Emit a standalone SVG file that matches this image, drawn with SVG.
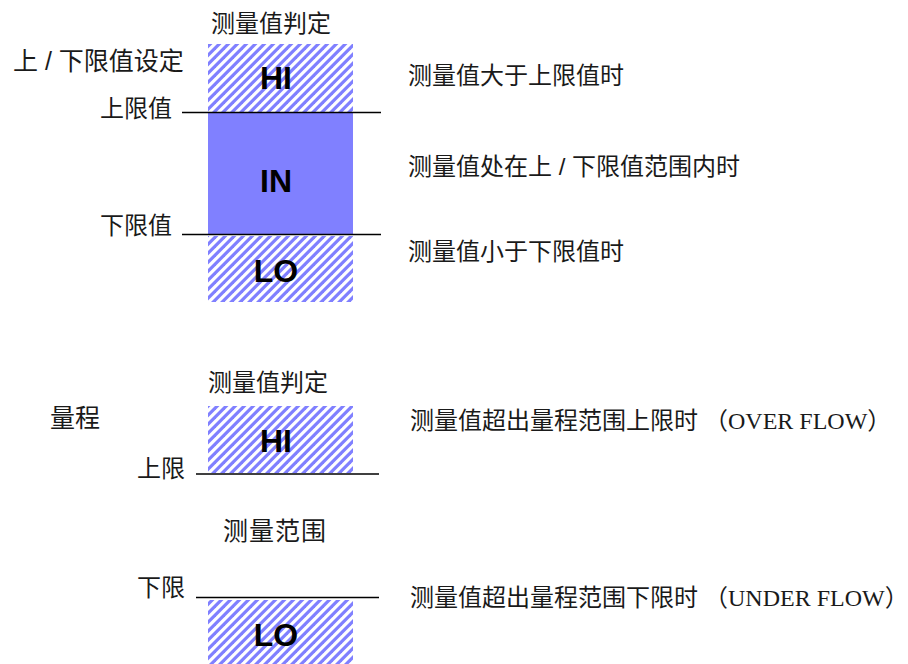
<svg xmlns="http://www.w3.org/2000/svg" width="908" height="664" viewBox="0 0 908 664">
<style>
.cjk{font-family:"Liberation Serif","Noto Sans CJK SC",serif;font-size:24px;fill:#1a1a1a}
.mix{font-family:"Liberation Sans","Noto Sans CJK SC",sans-serif;font-size:25px;fill:#1a1a1a}
.big{font-family:"Liberation Sans",Arial,sans-serif;font-size:32px;font-weight:bold;fill:#000;text-anchor:middle}
.hatch{fill:url(#stripes)}
.lim{stroke:#000;stroke-width:1.3;fill:none}
</style>
<defs>
<pattern id="stripes" patternUnits="userSpaceOnUse" x="0" y="0" width="9" height="9">
<rect x="0" y="0" width="9" height="9" fill="#ffffff"/>
<polygon points="0,0 4.5,0 0,4.5" fill="#8080ff"/>
<polygon points="9,0 9,4.5 4.5,9 0,9" fill="#8080ff"/>
</pattern>
</defs>
<rect width="908" height="664" fill="#ffffff"/>

<g id="judge-top-title"><text class="cjk" x="271" y="32" text-anchor="middle">测量值判定</text></g>
<g id="limit-setting-label"><text class="mix" x="13" y="69.5">上 / 下限值设定</text></g>
<g id="upper-value-label"><text class="cjk" x="172" y="116.5" text-anchor="end">上限值</text></g>
<g id="lower-value-label"><text class="cjk" x="172" y="234" text-anchor="end">下限值</text></g>

<g id="hi-top"><rect class="hatch" x="208" y="44" width="145" height="68"/><text class="big" x="276" y="89">HI</text></g>
<g id="in-mid"><rect x="208" y="113" width="145" height="121" fill="#8080ff"/><text class="big" x="276" y="191.5">IN</text></g>
<g id="lo-top"><rect class="hatch" x="208" y="236" width="145" height="66"/><text class="big" x="276" y="281.5">LO</text></g>

<g id="desc-hi"><text class="cjk" x="408" y="84">测量值大于上限值时</text></g>
<g id="desc-in"><text class="mix" style="font-size:24px" x="408" y="175">测量值处在上 / 下限值范围内时</text></g>
<g id="desc-lo"><text class="cjk" x="408" y="260">测量值小于下限值时</text></g>

<g id="judge-bottom-title"><text class="cjk" x="268" y="391" text-anchor="middle">测量值判定</text></g>
<g id="range-label"><text class="cjk" style="font-size:25px" x="50" y="426.5">量程</text></g>
<g id="upper-label"><text class="cjk" x="185" y="477" text-anchor="end">上限</text></g>
<g id="range-mid"><text class="cjk" style="font-size:25px;letter-spacing:1px" x="275" y="540" text-anchor="middle">测量范围</text></g>
<g id="lower-label"><text class="cjk" x="185" y="596" text-anchor="end">下限</text></g>

<g id="hi-bottom"><rect class="hatch" x="208" y="406" width="145" height="67"/><text class="big" x="276" y="451.5">HI</text></g>
<g id="lo-bottom"><rect class="hatch" x="208" y="600" width="145" height="64"/><text class="big" x="276" y="645.5">LO</text></g>

<g id="desc-over"><text class="cjk" x="410" y="429">测量值超出量程范围上限时 （OVER FLOW）</text></g>
<g id="desc-under"><text class="cjk" x="410" y="606">测量值超出量程范围下限时 （UNDER FLOW）</text></g>

<g id="lines">
<line class="lim" x1="182" y1="112.5" x2="381" y2="112.5"/>
<line class="lim" x1="182" y1="234.5" x2="381" y2="234.5"/>
<line class="lim" x1="196" y1="474" x2="379" y2="474"/>
<line class="lim" x1="196" y1="597.5" x2="379" y2="597.5"/>
</g>
</svg>
